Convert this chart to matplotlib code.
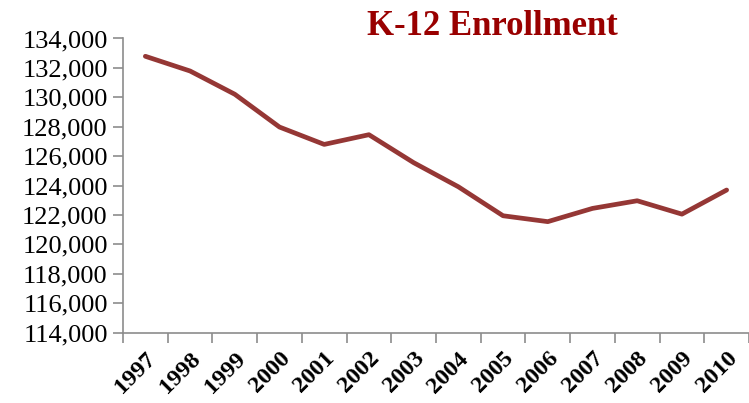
import matplotlib
matplotlib.use("Agg")
import matplotlib.pyplot as plt
from matplotlib.ticker import FuncFormatter, FixedLocator, NullFormatter

years = ["1997", "1998", "1999", "2000", "2001", "2002", "2003",
         "2004", "2005", "2006", "2007", "2008", "2009", "2010"]
enrollment = [132790, 131790, 130210, 127980, 126800, 127460, 125560,
              123920, 121950, 121550, 122450, 122970, 122060, 123700]
y_ticks = list(range(114000, 134001, 2000))

plt.rcParams['font.family'] = ['Liberation Serif', 'DejaVu Serif']

fig = plt.figure(figsize=(7.49, 4.03), dpi=100)
ax = fig.add_axes([0.1642, 0.1744, 0.8358, 0.7301])

x = list(range(len(years)))
ax.plot(x, enrollment, color='#953735', linewidth=3.4, solid_joinstyle='round', solid_capstyle='round')

ax.set_xlim(-0.5, len(years) - 0.5)
ax.set_ylim(114000, 134000)
ax.set_yticks(y_ticks)
ax.yaxis.set_major_formatter(FuncFormatter(lambda v, p: f"{int(v):,}"))

ax.xaxis.set_major_locator(FixedLocator([i - 0.5 for i in range(len(years) + 1)]))
ax.xaxis.set_major_formatter(NullFormatter())
ax.xaxis.set_minor_locator(FixedLocator(x))
ax.set_xticklabels(years, minor=True, rotation=45, ha='right', va='top',
                   rotation_mode='anchor', fontsize=17.5, fontweight='bold')
ax.tick_params(axis='x', which='minor', length=0, pad=11)
ax.tick_params(axis='x', which='major', length=7, width=1.2, color='#8c8c8c', direction='out')
ax.tick_params(axis='y', length=7, width=1.2, color='#8c8c8c', direction='out', labelsize=19, pad=4)

for s in ['top', 'right']:
    ax.spines[s].set_visible(False)
for s in ['left', 'bottom']:
    ax.spines[s].set_color('#8c8c8c')
    ax.spines[s].set_linewidth(1.2)

fig.text(0.657, 0.913, "K-12 Enrollment", ha='center', va='baseline', fontsize=25,
         fontweight='bold', color='#990000')

fig.savefig("out.png", dpi=100)
